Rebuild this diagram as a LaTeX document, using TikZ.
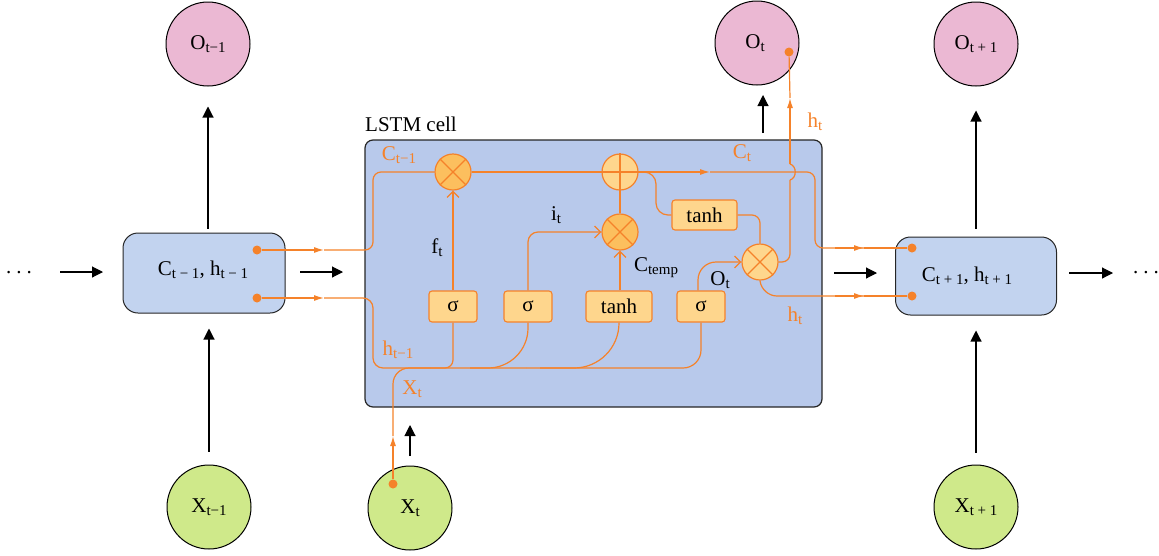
\documentclass[tikz,border=0pt]{standalone}
\usepackage{fontspec}
\setmainfont{Liberation Serif}
\usetikzlibrary{arrows.meta}
\definecolor{cellblue}{HTML}{B8C9EB}
\definecolor{boxblue}{HTML}{C2D3EF}
\definecolor{pinkc}{HTML}{EBB8D3}
\definecolor{greenc}{HTML}{CFE98A}
\definecolor{orl}{HTML}{F5822A}
\definecolor{mulf}{HTML}{FCBF5E}
\definecolor{lightf}{HTML}{FED68D}
\newcommand\sbs[1]{\raisebox{-0.32ex}{\fontsize{15}{15}\selectfont #1}}
\begin{document}
\begin{tikzpicture}[x=1pt,y=-1pt,
  font=\fontsize{21}{25}\selectfont,
  pinkcirc/.style={circle, draw=black, fill=pinkc, minimum size=84pt, inner sep=0pt, line width=1pt},
  greencirc/.style={circle, draw=black, fill=greenc, minimum size=84pt, inner sep=0pt, line width=1pt},
  hbox/.style={draw=black!85, fill=boxblue, rounded corners=15pt, minimum width=162pt, minimum height=80pt, line width=1pt},
  cellbox/.style={draw=black!85, fill=cellblue, rounded corners=8pt, line width=1.2pt, minimum width=457pt, minimum height=267pt},
  gatebox/.style={draw=orl, fill=lightf, rounded corners=3pt, minimum height=31pt, minimum width=48pt, inner sep=0pt, line width=1.1pt},
  opc/.style={circle, draw=orl, minimum size=36pt, inner sep=0pt, line width=1.2pt},
  ol/.style={draw=orl, line width=1.2pt},
  oarr/.style={ol, -{Straight Barb[length=6pt,width=12pt,line width=1.2pt]}},
  midtip/.style={ol, -{Latex[length=10pt,width=6pt]}},
  blk/.style={-{Triangle[length=11pt,width=11pt]}, line width=1.1pt},
  dotc/.style={circle, fill=orl, inner sep=0pt, minimum size=9pt},
  olab/.style={text=orl, inner sep=0pt},
  klab/.style={text=black, inner sep=0pt}]
\useasboundingbox (0,0) rectangle (1159,555);

% outer nodes
\node[pinkcirc] (o1) at (208,44) {};
\node[inner sep=0pt] (o1t) at (208,44) {O\sbs{t−1}};
\node[pinkcirc] (o2) at (757,43) {};
\node[inner sep=0pt] (o2t) at (755,43) {O\sbs{t}};
\node[pinkcirc] (o3) at (976,44) {};
\node[inner sep=0pt] (o3t) at (976,44) {O\sbs{t + 1}};
\node[greencirc] (x1) at (209,507) {};
\node[inner sep=0pt] (x1t) at (209,507) {X\sbs{t−1}};
\node[greencirc] (x2) at (410,508) {};
\node[inner sep=0pt] (x2t) at (410,508) {X\sbs{t}};
\node[greencirc] (x3) at (976,507) {};
\node[inner sep=0pt] (x3t) at (976,507) {X\sbs{t + 1}};

\node[hbox] (lb) at (204,273) {};
\node[inner sep=0pt] (lbt) at (203,270) {C\sbs{t − 1}, h\sbs{t − 1}};
\node[hbox, minimum height=78pt, minimum width=161pt] (rb) at (976,276) {};
\node[inner sep=0pt] (rbt) at (967,276) {C\sbs{t + 1}, h\sbs{t + 1}};

\node[cellbox] (cell) at (593.5,273.5) {};
\node[anchor=south west, inner sep=0pt] (celllab) at (365,132) {LSTM cell};

% dots
\node[inner sep=0pt] (d1) at (19,273) {.\hspace{5pt}.\hspace{5pt}.};
\node[inner sep=0pt] (d2) at (1146,273) {.\hspace{5pt}.\hspace{5pt}.};

% black arrows
\coordinate (ha1) at (60,272); \coordinate (ha2) at (103,272);
\draw[blk] (ha1) -- (ha2);
\coordinate (hb1) at (300,272); \coordinate (hb2) at (343,272);
\draw[blk] (hb1) -- (hb2);
\coordinate (hc1) at (834,273); \coordinate (hc2) at (877,273);
\draw[blk] (hc1) -- (hc2);
\coordinate (hd1) at (1069,273); \coordinate (hd2) at (1113,273);
\draw[blk] (hd1) -- (hd2);
\draw[blk, shorten <=4pt, shorten >=20pt] (lb.north -| o1) -- (o1.south);
\draw[blk, shorten <=13pt, shorten >=15pt] (x1.north) -- (lb.south -| x1);
\draw[blk, shorten <=8pt, shorten >=24pt] (rb.north -| o3) -- (o3.south);
\draw[blk, shorten <=12pt, shorten >=15pt] (x3.north) -- (rb.south -| x3);
\coordinate (va1) at (763,133); \coordinate (va2) at (763,95);
\draw[blk] (va1) -- (va2);
\coordinate (vb1) at (410,456); \coordinate (vb2) at (410,425);
\draw[blk] (vb1) -- (vb2);

% cell internals
\node[opc, fill=mulf] (m1) at (453,172) {};
\node[opc, fill=lightf] (pl) at (620,172) {};
\node[opc, fill=mulf] (m2) at (620,232) {};
\node[opc, fill=lightf] (m3) at (760,262) {};
\draw[ol] (m1.north west) -- (m1.south east) (m1.north east) -- (m1.south west);
\draw[ol] (m2.north west) -- (m2.south east) (m2.north east) -- (m2.south west);
\draw[ol] (m3.north west) -- (m3.south east) (m3.north east) -- (m3.south west);
\draw[ol] (pl.north) -- (pl.south) (pl.west) -- (pl.east);

\node[gatebox] (s1) at (453,306.5) {σ};
\node[gatebox] (s2) at (528,306.5) {σ};
\node[gatebox, minimum width=66pt] (t2) at (619,306.5) {tanh};
\node[gatebox] (s3) at (701,306.5) {σ};
\node[gatebox, minimum width=65pt, minimum height=30pt] (t1) at (704.5,215) {tanh};

% orange dots
\node[dotc] (dC) at (257,250) {};
\node[dotc] (dH) at (257,298) {};
\node[dotc] (rC) at (912,248) {};
\node[dotc] (rH) at (912,296) {};
\node[dotc] (dX) at (393,484) {};
\node[dotc] (dO) at (789,52) {};

% C_{t-1} path
\coordinate (aC) at (324,250);
\draw[midtip] (dC) -- (aC);
\draw[ol, rounded corners=8pt] (aC) -- (373,250) -- (373,172) -- (m1.west);
% h_{t-1} path
\coordinate (aH) at (324,298);
\coordinate (aH2) at (526,368);
\draw[midtip] (dH) -- (aH);
\draw[ol, rounded corners=10pt] (aH) -- (373,298) -- (373,368) -- (aH2);
\draw[ol, rounded corners=18pt] (aH2) -- (s3.south |- aH2) -- (s3.south);
% x_t path
\coordinate (aX) at (393,436);
\draw[midtip] (dX) -- (aX);
\draw[ol, rounded corners=16pt] (aX) -- (393,368) -- (430,368);
% gate inputs
\draw[ol, rounded corners=8pt] (s1.south) -- (s1.south |- aH2) -- (430,368);
\draw[ol, rounded corners=40pt] (470,368) -- (s2.south |- aH2) -- (s2.south);
\draw[ol, rounded corners=45pt] (540,368) -- (t2.south |- aH2) -- (t2.south);
% gate outputs
\draw[oarr] (s1.north) -- (m1.south);
\draw[oarr, rounded corners=10pt] (s2.north) -- (s2.north |- m2.west) -- (m2.west);
\draw[oarr] (t2.north -| m2) -- (m2.south);
\draw[oarr, rounded corners=18pt] ([xshift=-3pt]s3.north) -- ([xshift=-3pt]s3.north |- m3.west) -- (m3.west);
% cell state
\draw[ol] (m1.east) -- (pl.west);
\draw[ol] (m2.north) -- (pl.south);
\coordinate (aCt) at (710,172);
\draw[midtip] (pl.east) -- (aCt);
\coordinate (aR1) at (864,248);
\draw[ol, rounded corners=8pt] (aCt) -- (815,172) -- (815,248) -- (aR1);
\draw[ol] (aR1) -- (rC);
\draw[midtip] (815,248) ++(20,0) -- (aR1);
\draw[ol, rounded corners=12pt] (pl.east) -- (656,172) -- (656,215) -- (t1.west);
\draw[ol, rounded corners=8pt] (t1.east) -- (760,215) -- (m3.north);
% h_t to output
\coordinate (aO) at (790,98);
\draw[ol, rounded corners=8pt] (m3.east) -- (790,262) -- (790,180);
\draw[ol] (790,180) .. controls (797,178) and (797,166) .. (790,164);
\draw[midtip] (790,164) -- (aO);
\draw[ol] (aO) -- (dO);
% h_t to next
\coordinate (aR2) at (864,296);
\draw[ol, rounded corners=15pt] (m3.south) -- (762,296) -- (aR2);
\draw[midtip] (835,296) -- (aR2);
\draw[ol] (aR2) -- (rH);

% labels
\node[olab] (lC1) at (399,155) {C\sbs{t−1}};
\node[olab] (lCt) at (742,153) {C\sbs{t}};
\node[olab] (lht1) at (815,122) {h\sbs{t}};
\node[olab] (lht2) at (795,316) {h\sbs{t}};
\node[olab] (lh1) at (398,350) {h\sbs{t−1}};
\node[olab] (lX) at (412,389) {X\sbs{t}};
\node[klab] (lf) at (437,248) {f\sbs{t}};
\node[klab] (li) at (556,215) {i\sbs{t}};
\node[klab] (lct) at (656,268) {C\sbs{temp}};
\node[klab] (lo) at (720,280) {O\sbs{t}};
\end{tikzpicture}
\end{document}
